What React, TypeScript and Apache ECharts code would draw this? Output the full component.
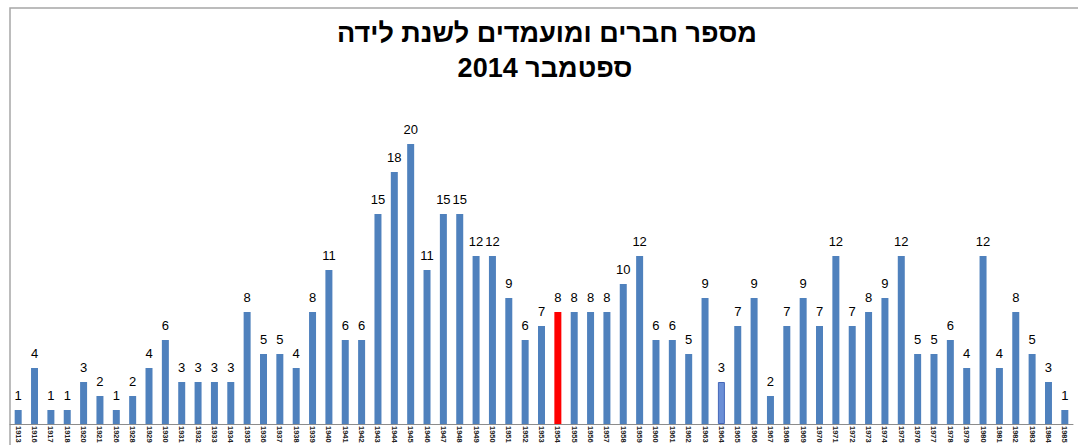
import React, { useEffect, useRef } from "react";
import * as echarts from "echarts";

const titleLine1 = "מספר חברים ומועמדים לשנת לידה";
const titleLine2 = "ספטמבר 2014";

const years = [
  "1913", "1916", "1917", "1918", "1920", "1921", "1926", "1928", "1929", "1930",
  "1931", "1932", "1933", "1934", "1935", "1936", "1937", "1938", "1939", "1940",
  "1941", "1942", "1943", "1944", "1945", "1946", "1947", "1948", "1949", "1950",
  "1951", "1952", "1953", "1954", "1955", "1956", "1957", "1958", "1959", "1960",
  "1961", "1962", "1963", "1964", "1965", "1966", "1967", "1968", "1969", "1970",
  "1971", "1972", "1973", "1974", "1975", "1976", "1977", "1978", "1979", "1980",
  "1981", "1982", "1983", "1984", "1985",
];

const counts = [
  1, 4, 1, 1, 3, 2, 1, 2, 4, 6,
  3, 3, 3, 3, 8, 5, 5, 4, 8, 11,
  6, 6, 15, 18, 20, 11, 15, 15, 12, 12,
  9, 6, 7, 8, 8, 8, 8, 10, 12, 6,
  6, 5, 9, 3, 7, 9, 2, 7, 9, 7,
  12, 7, 8, 9, 12, 5, 5, 6, 4, 12,
  4, 8, 5, 3, 1,
];

const redYear = "1954";
const selectedYear = "1964";

export default function App() {
  const ref = useRef<HTMLDivElement>(null);
  useEffect(() => {
    if (!ref.current) return;
    const chart = echarts.init(ref.current, null, { renderer: "svg" });
    const data = counts.map((v, i) => {
      if (years[i] === redYear) {
        return { value: v, itemStyle: { color: "#ff0000" } };
      }
      if (years[i] === selectedYear) {
        return { value: v, itemStyle: { color: "#6b8fd6", borderColor: "#4466b8", borderWidth: 1 } };
      }
      return { value: v };
    });
    chart.setOption({
      animation: false,
      backgroundColor: "#ffffff",
      grid: {
        left: 10,
        right: 5,
        top: 74,
        bottom: 21,
        containLabel: false,
        outerBoundsMode: "none",
      },
      xAxis: {
        type: "category",
        data: years,
        axisLine: { lineStyle: { color: "#8c8c8c", width: 1 } },
        axisTick: { show: false },
        axisLabel: {
          interval: 0,
          rotate: -90,
          margin: 2,
          fontSize: 7.5,
          fontWeight: "bold",
          color: "#222222",
          fontFamily: "Liberation Sans, Arial, sans-serif",
        },
      },
      yAxis: {
        type: "value",
        min: 0,
        max: 25,
        show: false,
        splitLine: { show: false },
      },
      series: [
        {
          type: "bar",
          data,
          barWidth: 7,
          itemStyle: { color: "#4f81bd" },
          label: {
            show: true,
            position: "top",
            distance: 8,
            fontSize: 13,
            color: "#000000",
            textBorderWidth: 0,
            fontFamily: "Liberation Sans, Arial, sans-serif",
          },
        },
      ],
      graphic: [
        {
          type: "rect",
          shape: { x: 10, y: 8, width: 1100, height: 460 },
          style: { fill: "none", stroke: "#a6a6a6", lineWidth: 1.5 },
          silent: true,
          z: -1,
        },
        {
          type: "text",
          x: 547,
          y: 33,
          style: {
            text: titleLine1,
            textAlign: "center",
            textVerticalAlign: "middle",
            font: "bold 27px 'Liberation Sans', Arial, sans-serif",
            fill: "#000000",
          },
        },
        {
          type: "text",
          x: 545,
          y: 68,
          style: {
            text: titleLine2,
            textAlign: "center",
            textVerticalAlign: "middle",
            font: "bold 27px 'Liberation Sans', Arial, sans-serif",
            fill: "#000000",
          },
        },
      ],
    });
    return () => chart.dispose();
  }, []);
  return (
    <div
      ref={ref}
      style={{ position: "fixed", left: 0, top: 0, width: 1078, height: 445 }}
    />
  );
}
